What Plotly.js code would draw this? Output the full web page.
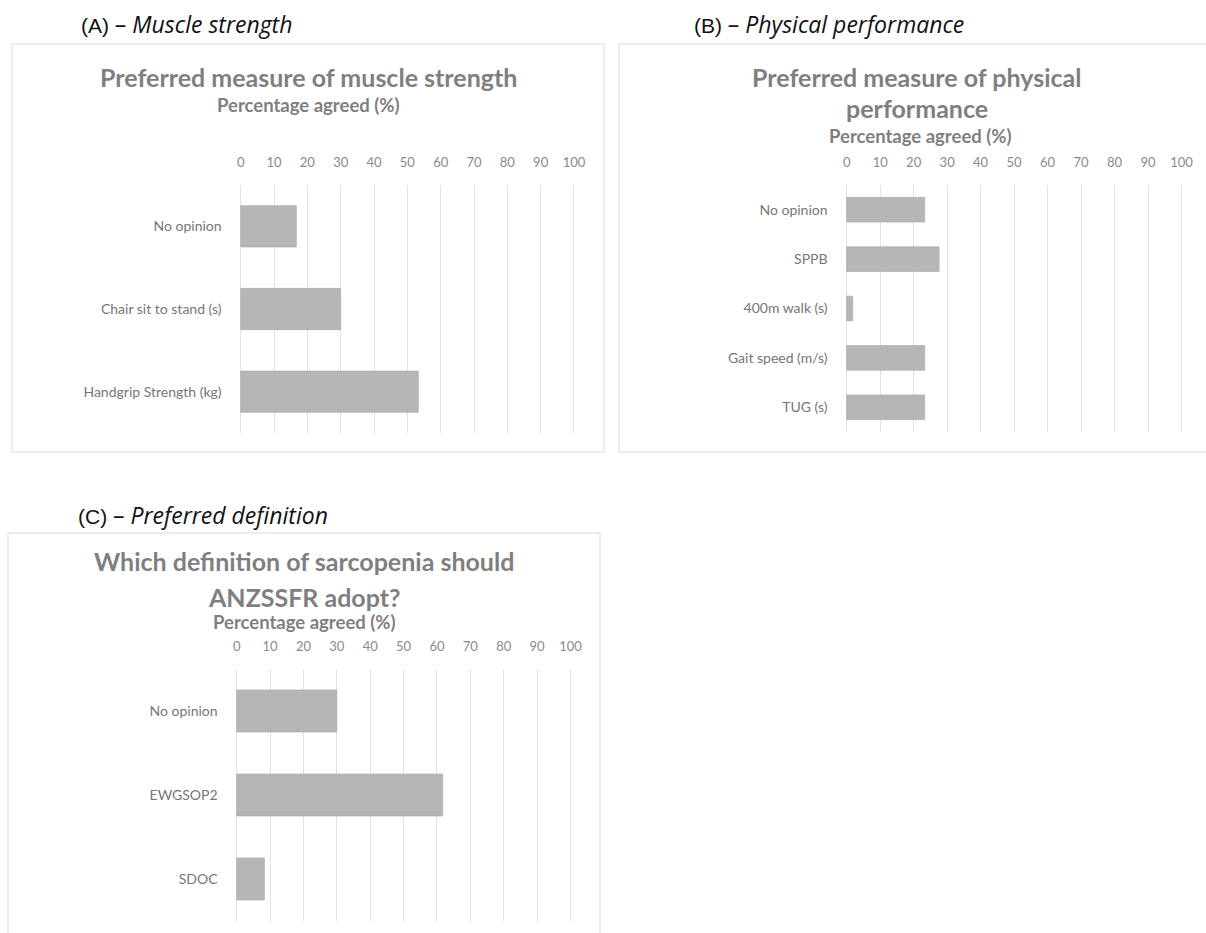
<!DOCTYPE html>
<html>
<head>
<meta charset="utf-8">
<script src="https://cdn.plot.ly/plotly-3.0.1.min.js"></script>
<style>html,body{margin:0;padding:0;background:#fff;}#chart{width:1206px;height:933px;}</style>
</head>
<body>
<div id="chart"></div>
<script>
// ---- data ----
const categoriesA = ["No opinion", "Chair sit to stand (s)", "Handgrip Strength (kg)"];
const valuesA = [16.7, 30, 53.3];
const categoriesB = ["No opinion", "SPPB", "400m walk (s)", "Gait speed (m/s)", "TUG (s)"];
const valuesB = [23.3, 27.6, 1.8, 23.3, 23.3];
const categoriesC = ["No opinion", "EWGSOP2", "SDOC"];
const valuesC = [30, 61.7, 8.3];
const tickValues = [0, 10, 20, 30, 40, 50, 60, 70, 80, 90, 100];
const tickLabels = ["0", "10", "20", "30", "40", "50", "60", "70", "80", "90", "100"];

// ---- styling helpers ----
const W = 1206, H = 933;
const px = v => v / W;
const py = v => 1 - v / H;
const FONT = "Lato, 'Open Sans', sans-serif";
const barStyle = {color: "#b6b6b6", line: {color: "#a6a6a6", width: 0.6}};
const PAD = 0.4; // small range padding so the 0 and 100 gridlines are drawn

function bar(cats, vals, xa, ya) {
  return {type: "bar", orientation: "h", y: cats, x: vals, xaxis: xa, yaxis: ya,
          marker: barStyle, hoverinfo: "x+y", showlegend: false};
}

function xAxis(x0, x100, anchor) {
  const k = (x100 - x0) / 100;
  return {domain: [px(x0 - PAD * k), px(x100 + PAD * k)], anchor: anchor, side: "top", range: [-PAD, 100 + PAD],
          tickmode: "array", tickvals: tickValues, ticktext: tickLabels,
          showgrid: true, gridcolor: "#e2e2e2", gridwidth: 1, zeroline: false,
          showline: false, ticks: "outside", ticklen: 12, tickcolor: "rgba(0,0,0,0)",
          tickfont: {family: FONT, size: 13, color: "#8a8a8a"}, fixedrange: true};
}
function yAxis(y0, y1, anchor) {
  return {domain: [py(y1), py(y0)], anchor: anchor, autorange: "reversed", type: "category",
          showgrid: false, zeroline: false, showline: false,
          ticks: "outside", ticklen: 14, tickcolor: "rgba(0,0,0,0)",
          tickfont: {family: FONT, size: 14, color: "#767676"}, fixedrange: true};
}

const data = [
  bar(categoriesA, valuesA, "x", "y"),
  bar(categoriesB, valuesB, "x2", "y2"),
  bar(categoriesC, valuesC, "x3", "y3")
];

function ann(text, x, y, size, opts) {
  return Object.assign({text: text, x: px(x), y: py(y), xref: "paper", yref: "paper",
    showarrow: false, xanchor: "center", yanchor: "middle",
    font: {family: FONT, size: size, color: "#7f7f7f"}}, opts || {});
}
const titleOpts = {font: {family: FONT, size: 25, color: "#7f7f7f", weight: 700}};
const subOpts = {font: {family: FONT, size: 18.5, color: "#7f7f7f", weight: 700}};
const panelOpts = {xanchor: "left", font: {family: "'Liberation Sans', Arial, sans-serif", size: 21, color: "#111"}};
function panelLabel(letter, name, x, y) {
  return ann("(" + letter + ") <span style=\"font-family:'Open Sans';font-size:23px\">– <i>" + name + "</i></span>", x, y, 21, panelOpts);
}

const annotations = [
  panelLabel("A", "Muscle strength", 79, 24),
  panelLabel("B", "Physical performance", 692, 24),
  panelLabel("C", "Preferred definition", 76, 515),
  ann("<b>Preferred measure of muscle strength</b>", 308, 77, 25, titleOpts),
  ann("<b>Percentage agreed (%)</b>", 308, 105, 18.5, subOpts),
  ann("<b>Preferred measure of physical</b>", 917, 77, 25, titleOpts),
  ann("<b>performance</b>", 917, 108, 25, titleOpts),
  ann("<b>Percentage agreed (%)</b>", 920, 136, 18.5, subOpts),
  ann("<b>Which definition of sarcopenia should</b>", 304, 561, 25, titleOpts),
  ann("<b>ANZSSFR adopt?</b>", 304, 597, 25, titleOpts),
  ann("<b>Percentage agreed (%)</b>", 304, 622, 18.5, subOpts)
];

function frame(x0, y0, x1, y1) {
  return {type: "rect", xref: "paper", yref: "paper", x0: px(x0), x1: px(x1), y0: py(y1), y1: py(y0),
          line: {color: "#dadada", width: 1}, fillcolor: "rgba(0,0,0,0)", layer: "below"};
}

const layout = {
  width: W, height: H, margin: {l: 0, r: 0, t: 0, b: 0},
  paper_bgcolor: "#ffffff", plot_bgcolor: "rgba(0,0,0,0)",
  bargap: 0.5, showlegend: false,
  xaxis: xAxis(240.7, 574, "y"), yaxis: yAxis(185, 433, "x"),
  xaxis2: xAxis(846.7, 1181.5, "y2"), yaxis2: yAxis(185, 432, "x2"),
  xaxis3: xAxis(236.7, 570.5, "y3"), yaxis3: yAxis(669, 921, "x3"),
  annotations: annotations,
  shapes: [frame(12, 44, 604, 452), frame(619, 44, 1210, 452), frame(8, 533, 600, 940)]
};

Plotly.newPlot("chart", data, layout, {displayModeBar: false, staticPlot: true});
</script>
</body>
</html>
